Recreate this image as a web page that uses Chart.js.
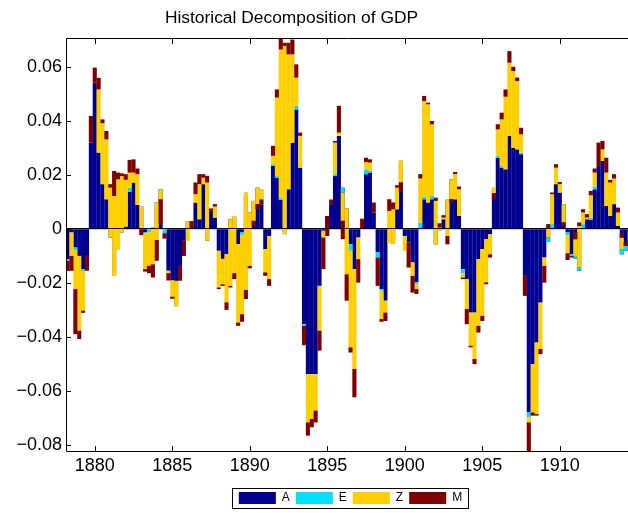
<!DOCTYPE html>
<html>
<head>
<meta charset="utf-8">
<script src="https://cdn.jsdelivr.net/npm/chart.js@4/dist/chart.umd.min.js"></script>
<style>
  html, body { margin: 0; padding: 0; background: #fff; }
</style>
</head>
<body>
<canvas id="chart" width="628" height="513"></canvas>
<script>
// quarterly dates, first bar at 1878.25
const firstQuarter = 1878.25;

// shock contributions per quarter, stacked cumulatively in the order A, E, Z, M
const A = [
  -0.0111, -0.0012, -0.0068, -0.0099, -0.0148, -0.0099, 0.0321, 0.0543, 0.0284, 0.0167,
  0.0111, -0.0031, -0.0167, -0.0074, -0.0012, 0.0010, 0.0139, 0.0173, 0.0090, 0.0086,
  -0.0012, 0, 0.0006, 0.0099, 0.0148, 0, -0.0154, -0.0190, -0.0278, -0.0136,
  -0.0043, 0.0030, 0, 0.0099, 0.0037, 0.0167, -0.0043, 0.0068, 0.0043, -0.0080,
  -0.0110, -0.0093, 0.0037, 0.0043, -0.0056, -0.0012, 0.0123, 0.0062, 0.0105, 0.0154,
  0.0093, -0.0074, -0.0025, 0.0235, 0.0191, 0.0109, -0.0010, 0.0148, 0.0321, 0.0444,
  0.0228, -0.0352, -0.0537, -0.0537, -0.0537, -0.0210, -0.0006, 0.0049, 0.0093, 0.0197,
  0.0346, 0.0154, 0.0077, -0.0056, -0.0148, -0.0031, 0, 0.0204, 0.0210, 0.0062,
  -0.0086, -0.0222, -0.0265, -0.0043, -0.0043, 0.0074, 0.0249, -0.0025, -0.0049, -0.0123,
  -0.0197, 0.0006, 0.0111, 0.0099, 0.0111, -0.0056, -0.0004, 0.0037, 0.0105, 0.0185,
  0.0111, 0.0049, -0.0148, -0.0185, -0.0309, -0.0309, -0.0111, -0.0074, -0.0037, -0.0019,
  0.0148, 0.0265, 0.0228, 0.0222, 0.0346, 0.0302, 0.0296, 0.0278, -0.0173, -0.0679,
  -0.0500, -0.0420, -0.0272, -0.0105, -0.0047, 0.0006, 0.0167, 0.0136, 0.0093, -0.0012,
  -0.0093, -0.0109, -0.0154, 0.0006, 0.0037, 0.0035, 0.0148, 0.0234, 0.0253, 0.0086,
  0.0049, 0.0093, 0.0012, -0.0093, -0.0080
];
const E = [
  -0.0007, 0, -0.0009, 0, -0.0007, 0, 0, 0, 0, 0,
  0, 0, -0.0006, 0, 0, 0, 0.0015, 0, 0, 0,
  -0.0003, -0.0012, 0, 0, 0, -0.0015, 0, 0, -0.0008, 0,
  0, 0, 0, 0, 0, 0, 0, 0, 0, 0,
  0, 0, 0, 0.0006, 0, -0.0009, 0.0013, 0, 0, 0,
  0.0055, 0, 0, 0.0006, 0.0006, 0.0008, -0.0009, 0, 0, 0.0013,
  0, -0.0006, 0, 0, 0, 0, 0, 0, 0, 0.0007,
  0, -0.0018, 0, -0.0024, 0, 0, 0, 0.0018, 0.0006, 0,
  -0.0019, -0.0006, 0, -0.0009, -0.0012, 0, 0.0006, 0, 0, 0,
  -0.0007, 0.0019, 0.0010, 0, 0.0012, 0, 0, 0, 0.0006, 0,
  0, 0, -0.0015, 0, 0, 0, 0, 0, 0, 0,
  0.0006, 0.0007, 0.0007, 0, 0, 0, 0, 0.0006, 0, -0.0018,
  0, 0, 0, 0, 0.0016, 0.0013, 0, 0, 0, -0.0010,
  -0.0006, 0.0010, 0.0012, 0.0013, 0, 0.0008, 0.0009, 0, 0, 0,
  0, 0, 0, 0.0019, 0.0018
];
const Z = [
  0, -0.0087, -0.0145, -0.0277, -0.0147, 0, 0, 0, 0.0234, 0.0226,
  0.0222, 0.0185, 0.0296, 0.0259, 0.0209, 0.0173, 0.0056, 0.0037, 0.0114, -0.0086,
  -0.0133, -0.0124, -0.0136, -0.0139, -0.0129, 0, -0.0009, -0.0060, 0.0095, 0,
  0, -0.0073, 0, 0.0031, 0.0130, 0.0024, 0.0216, 0, 0.0041, -0.0136,
  -0.0094, -0.0178, -0.0247, -0.0212, -0.0290, -0.0294, -0.0361, -0.0198, -0.0074, -0.0061,
  -0.0038, -0.0086, -0.0160, 0.0031, 0.0291, 0.0549, 0.0698, 0.0500, 0.0327, 0.0105,
  0.0118, 0, -0.0179, -0.0166, -0.0135, -0.0166, -0.0025, 0, 0, 0.0117,
  0.0012, -0.0105, -0.0244, -0.0358, -0.0370, -0.0080, 0, 0.0027, 0.0031, 0,
  0, -0.0105, -0.0044, 0.0163, 0.0154, 0.0080, -0.0082, -0.0055, 0, -0.0050,
  -0.0018, 0.0163, 0.0354, 0.0364, 0.0266, 0.0161, 0.0010, 0.0006, -0.0136, -0.0074,
  0.0093, 0.0099, -0.0016, -0.0111, -0.0123, -0.0172, -0.0247, -0.0247, -0.0160, -0.0074,
  -0.0021, 0.0098, 0.0172, 0.0269, 0.0271, 0.0284, 0.0253, 0.0068, 0, -0.0019,
  -0.0179, -0.0265, -0.0172, -0.0031, 0.0033, 0.0111, 0.0061, 0.0031, -0.0068, -0.0067,
  0, 0.0062, 0.0154, 0.0043, 0.0006, 0.0083, 0.0053, 0, 0.0043, 0.0124,
  0.0124, 0.0095, 0.0050, 0.0043, 0
];
const M = [
  -0.0037, -0.0055, -0.0167, -0.0031, -0.0008, -0.0055, 0.0099, 0.0056, 0.0043, 0.0014,
  0.0031, 0.0013, 0.0093, 0.0025, 0.0010, 0.0021, 0.0047, 0.0049, 0.0021, -0.0022,
  -0.0009, -0.0027, -0.0049, -0.0077, 0.0092, -0.0020, -0.0027, -0.0008, 0, -0.0055,
  -0.0056, 0, 0.0030, 0.0043, 0.0037, 0.0013, 0.0025, 0.0009, 0.0009, -0.0006,
  -0.0006, -0.0028, -0.0006, -0.0022, -0.0012, -0.0028, -0.0034, -0.0009, -0.0019, -0.0019,
  -0.0017, -0.0013, -0.0025, 0.0037, 0.0030, 0.0044, 0.0012, 0.0043, 0.0055, 0.0049,
  0.0012, -0.0072, -0.0049, -0.0031, -0.0044, -0.0074, -0.0117, -0.0074, 0.0017, 0.0006,
  0.0099, -0.0068, -0.0098, -0.0019, -0.0105, -0.0087, 0.0039, 0.0016, 0.0012, 0.0037,
  -0.0105, -0.0010, -0.0031, -0.0043, -0.0025, 0.0009, -0.0035, 0, -0.0093, -0.0062,
  -0.0018, 0.0016, 0.0019, 0.0006, 0.0012, 0.0012, 0.0016, 0.0009, -0.0031, -0.0012,
  0.0008, 0.0010, -0.0006, -0.0056, -0.0006, -0.0019, -0.0025, -0.0019, -0.0007, -0.0012,
  -0.0022, 0.0019, 0.0025, 0.0027, 0.0043, 0.0016, 0.0013, 0.0024, -0.0074, -0.0114,
  -0.0012, -0.0006, -0.0019, -0.0062, 0.0017, 0.0006, 0.0013, 0.0008, -0.0013, -0.0025,
  -0.0006, 0.0027, 0.0013, 0.0012, 0.0013, 0.0016, 0.0015, 0.0087, 0.0031, 0.0055,
  0.0010, 0.0016, 0.0018, 0.0016, 0.0013
];

const seriesNames = ['A', 'E', 'Z', 'M'];
const seriesColors = ['#00008f', '#00dfff', '#ffcf00', '#800000'];
const xTicks = [1880, 1885, 1890, 1895, 1900, 1905, 1910];
const yTicks = [-0.08, -0.06, -0.04, -0.02, 0, 0.02, 0.04, 0.06];

const dates = A.map((_, i) => firstQuarter + i * 0.25);
const FONT = '"Liberation Sans", Arial, Helvetica, sans-serif';

// cumulative stacking like old matlab bar(...,'stacked'): each piece starts where the previous ended
const series = [A, E, Z, M];
const running = dates.map(() => 0);
const datasets = series.map((vals, s) => {
  const data = dates.map((t, i) => {
    const lo = running[i];
    const hi = lo + vals[i];
    running[i] = hi;
    return { x: t, y: [lo, hi] };
  });
  return {
    label: seriesNames[s],
    data: data,
    backgroundColor: seriesColors[s],
    borderWidth: 0,
    grouped: false,
    barPercentage: 1.06,
    categoryPercentage: 1,
    order: 4 - s   // later series painted on top
  };
});

const LEGEND_SHIFT = 3;

const framePlugin = {
  id: 'frame',
  afterUpdate(chart) {
    // nudge legend a little right, the original axes run past the image edge
    const lg = chart.legend;
    if (!lg) return;
    lg.left += LEGEND_SHIFT;
    lg.right += LEGEND_SHIFT;
    (lg.legendHitBoxes || []).forEach(h => { h.left += LEGEND_SHIFT; });
  },
  afterDatasetsDraw(chart) {
    const { ctx, chartArea: ca, scales } = chart;
    ctx.save();
    ctx.strokeStyle = '#000';
    ctx.lineWidth = 1;
    // zero baseline
    const y0 = Math.round(scales.y.getPixelForValue(0)) + 0.5;
    ctx.beginPath();
    ctx.moveTo(ca.left, y0 - 1);
    ctx.lineTo(ca.right, y0 - 1);
    ctx.stroke();
    // box (right side is off the canvas)
    ctx.beginPath();
    ctx.moveTo(ca.right, ca.top - 0.5);
    ctx.lineTo(ca.left - 0.5, ca.top - 0.5);
    ctx.lineTo(ca.left - 0.5, ca.bottom + 0.5);
    ctx.lineTo(ca.right, ca.bottom + 0.5);
    ctx.stroke();
    // inward tick marks
    ctx.beginPath();
    xTicks.forEach(v => {
      const x = Math.round(scales.x.getPixelForValue(v)) + 0.5;
      ctx.moveTo(x, ca.bottom);
      ctx.lineTo(x, ca.bottom - 5);
      ctx.moveTo(x, ca.top);
      ctx.lineTo(x, ca.top + 5);
    });
    yTicks.forEach(v => {
      const y = Math.round(scales.y.getPixelForValue(v)) + 0.5;
      ctx.moveTo(ca.left, y);
      ctx.lineTo(ca.left + 4, y);
    });
    ctx.stroke();
    ctx.restore();
  },
  afterDraw(chart) {
    const { ctx } = chart;
    ctx.save();
    // title
    ctx.fillStyle = '#000';
    ctx.font = '17.4px ' + FONT;
    ctx.textAlign = 'center';
    ctx.textBaseline = 'alphabetic';
    ctx.fillText('Historical Decomposition of GDP', 291.5, 23);
    // legend border
    const hb = chart.legend.legendHitBoxes;
    if (hb && hb.length) {
      const first = hb[0], last = hb[hb.length - 1];
      const cy = first.top + first.height / 2;
      ctx.strokeStyle = '#000';
      ctx.lineWidth = 1;
      ctx.strokeRect(Math.round(first.left - 7) + 0.5, Math.round(cy - 10) + 0.5,
        Math.round(last.left + last.width - first.left + 13), 20);
    }
    ctx.restore();
  }
};

new Chart(document.getElementById('chart'), {
  type: 'bar',
  data: { datasets: datasets },
  options: {
    responsive: false,
    animation: false,
    devicePixelRatio: 1,
    layout: { padding: { top: 39, left: 0, right: 0, bottom: -1 } },
    scales: {
      x: {
        type: 'linear',
        min: 1878.21,
        max: 1914.40,
        offset: false,
        grid: { display: false, drawTicks: false },
        border: { display: false },
        ticks: {
          color: '#000',
          padding: 4,
          maxRotation: 0,
          font: { family: FONT, size: 18 },
          callback: v => String(v)
        },
        afterBuildTicks: s => { s.ticks = xTicks.map(v => ({ value: v })); },
        afterFit: s => { s.height = 35; }
      },
      y: {
        type: 'linear',
        min: -0.0822,
        max: 0.0705,
        grid: { display: false, drawTicks: false },
        border: { display: false },
        ticks: {
          color: '#000',
          padding: 5,
          font: { family: FONT, size: 18 },
          callback: v => v === 0 ? '0' : (v < 0 ? '\u2212' : '') + Math.abs(v).toFixed(2)
        },
        afterBuildTicks: s => { s.ticks = yTicks.map(v => ({ value: v })); },
        afterFit: s => { s.width = 67; }
      }
    },
    plugins: {
      title: { display: false },
      tooltip: { enabled: false },
      legend: {
        position: 'bottom',
        fullSize: false,
        labels: {
          boxWidth: 37,
          boxHeight: 12,
          padding: 6,
          color: '#000',
          font: { family: FONT, size: 12 },
          sort: (a, b) => a.datasetIndex - b.datasetIndex
        }
      }
    }
  },
  plugins: [framePlugin]
});
</script>
</body>
</html>
